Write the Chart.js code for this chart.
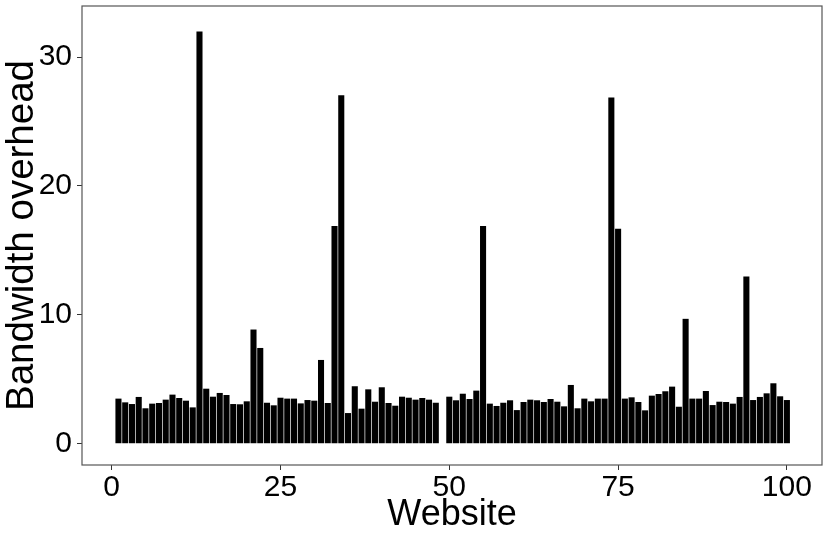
<!DOCTYPE html>
<html>
<head>
<meta charset="utf-8">
<script src="https://cdn.jsdelivr.net/npm/chart.js@4"></script>
<style>
  html, body { margin: 0; padding: 0; background: #fff; }
  canvas { display: block; }
</style>
</head>
<body>
<canvas id="overheadChart" width="830" height="535"></canvas>
<script>
// website index (49 has no value)
const websites = [
  1, 2, 3, 4, 5, 6, 7, 8, 9, 10,
  11, 12, 13, 14, 15, 16, 17, 18, 19, 20,
  21, 22, 23, 24, 25, 26, 27, 28, 29, 30,
  31, 32, 33, 34, 35, 36, 37, 38, 39, 40,
  41, 42, 43, 44, 45, 46, 47, 48, 49, 50,
  51, 52, 53, 54, 55, 56, 57, 58, 59, 60,
  61, 62, 63, 64, 65, 66, 67, 68, 69, 70,
  71, 72, 73, 74, 75, 76, 77, 78, 79, 80,
  81, 82, 83, 84, 85, 86, 87, 88, 89, 90,
  91, 92, 93, 94, 95, 96, 97, 98, 99, 100
];

const overhead = [
  3.50, 3.21, 3.08, 3.63, 2.75, 3.11, 3.16, 3.42, 3.81, 3.55,
  3.34, 2.82, 31.98, 4.27, 3.65, 3.94, 3.78, 3.08, 3.06, 3.29,
  8.86, 7.43, 3.18, 2.98, 3.57, 3.50, 3.50, 3.13, 3.39, 3.34,
  6.50, 3.16, 16.89, 27.04, 2.38, 4.46, 2.72, 4.22, 3.26, 4.38,
  3.16, 2.95, 3.65, 3.57, 3.42, 3.55, 3.42, 3.18, null, 3.65,
  3.37, 3.88, 3.47, 4.12, 16.89, 3.11, 2.93, 3.18, 3.37, 2.61,
  3.24, 3.42, 3.37, 3.24, 3.47, 3.26, 2.90, 4.56, 2.75, 3.50,
  3.29, 3.50, 3.50, 26.86, 16.68, 3.50, 3.60, 3.24, 2.59, 3.73,
  3.86, 4.07, 4.43, 2.87, 9.69, 3.50, 3.50, 4.09, 3.00, 3.26,
  3.24, 3.11, 3.63, 12.98, 3.39, 3.63, 3.91, 4.69, 3.68, 3.39
];

const xTicks = [0, 25, 50, 75, 100];
const yTicks = [0, 10, 20, 30];

const FONT = "'Liberation Sans', Arial, sans-serif";

// box round the plot area, like the ggplot panel border
const panelBorder = {
  id: 'panelBorder',
  afterDraw(chart) {
    const { ctx, chartArea: { left, top, right, bottom } } = chart;
    ctx.save();
    ctx.strokeStyle = '#555';
    ctx.lineWidth = 1.2;
    ctx.strokeRect(left, top, right - left, bottom - top);
    ctx.restore();
  }
};

const ctx = document.getElementById('overheadChart');

new Chart(ctx, {
  type: 'bar',
  data: {
    datasets: [{
      label: 'Bandwidth overhead',
      data: websites.map((w, i) => ({ x: w, y: overhead[i] })),
      backgroundColor: '#000',
      borderWidth: 0,
      barPercentage: 0.9,
      categoryPercentage: 1.0
    }]
  },
  options: {
    responsive: false,
    animation: false,
    layout: { padding: { top: 6, right: 8, left: 0, bottom: 0 } },
    plugins: {
      legend: { display: false },
      tooltip: { enabled: false }
    },
    scales: {
      x: {
        type: 'linear',
        min: -4.4,
        max: 105.2,
        offset: false,
        afterBuildTicks(scale) { scale.ticks = xTicks.map(v => ({ value: v })); },
        afterFit(scale) {
          scale.height = 70;
          scale.paddingLeft = 0;
          scale.paddingRight = 0;
        },
        grid: { offset: false, drawOnChartArea: false, drawTicks: true, tickLength: 5, color: '#333', lineWidth: 1 },
        border: { display: false },
        ticks: {
          maxRotation: 0,
          autoSkip: false,
          padding: 0,
          color: '#000',
          font: { family: FONT, size: 30 }
        },
        title: {
          display: true,
          text: 'Website',
          color: '#000',
          font: { family: FONT, size: 36, lineHeight: 1 },
          padding: { top: 0, bottom: 2 }
        }
      },
      y: {
        min: -1.65,
        max: 33.96,
        afterBuildTicks(scale) { scale.ticks = yTicks.map(v => ({ value: v })); },
        afterFit(scale) {
          scale.width = 82;
          scale.paddingTop = 0;
          scale.paddingBottom = 0;
        },
        grid: { drawOnChartArea: false, drawTicks: true, tickLength: 5, color: '#333', lineWidth: 1 },
        border: { display: false },
        ticks: {
          padding: 5,
          color: '#000',
          font: { family: FONT, size: 30 }
        },
        title: {
          display: true,
          text: 'Bandwidth overhead',
          color: '#000',
          font: { family: FONT, size: 38.5, lineHeight: 1 },
          padding: { top: 3.5, bottom: 0 }
        }
      }
    }
  },
  plugins: [panelBorder]
});
</script>
</body>
</html>
